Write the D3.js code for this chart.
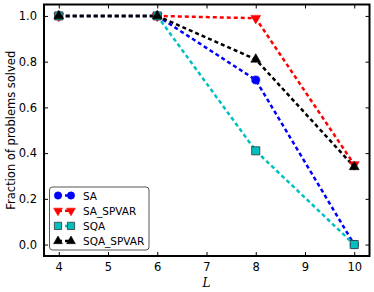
<!DOCTYPE html>
<html><head><meta charset="utf-8">
<script src="https://cdn.jsdelivr.net/npm/d3@7"></script>
<style>body{margin:0;background:#fff}svg{display:block}</style>
</head><body>
<svg id="c" width="374" height="292"></svg>
<script>
const Lvals = [4, 6, 8, 10];
const seriesNames = ["SA", "SA_SPVAR", "SQA", "SQA_SPVAR"];
const SA = [1.0, 1.0, 0.72, 0.0];
const SA_SPVAR = [1.0, 1.0, 0.99, 0.35];
const SQA = [1.0, 1.0, 0.41, 0.0];
const SQA_SPVAR = [1.0, 1.0, 0.81, 0.34];
const xTicks = [4, 5, 6, 7, 8, 9, 10];
const yTicks = [0.0, 0.2, 0.4, 0.6, 0.8, 1.0];

const colors = ["#0000ff", "#ff0000", "#00bfbf", "#000000"];
const shapes = [d3.symbolCircle, "tri-down", d3.symbolSquare, d3.symbolTriangle];
const values = [SA, SA_SPVAR, SQA, SQA_SPVAR];

const svg = d3.select("#c");
const L = 44, R = 369.5, T = 4.5, B = 256;
const x = d3.scaleLinear().domain([3.7, 10.31]).range([L, R]);
const y = d3.scaleLinear().domain([-0.05, 1.05]).range([B, T]);

function markerPath(shape, size) {
  if (shape === "tri-down") return d3.symbol().type(d3.symbolTriangle).size(size)();
  return d3.symbol().type(shape).size(size)();
}
function sizeFor(shape, k) {
  let s;
  if (shape === d3.symbolCircle) s = 52;
  else if (shape === d3.symbolSquare) s = 66;
  else s = 42;
  return s * k;
}
function drawMarker(g, shape, color, cx, cy, k) {
  g.append("path")
    .attr("d", markerPath(shape, sizeFor(shape, k)))
    .attr("transform", `translate(${cx},${cy})` + (shape === "tri-down" ? " rotate(180)" : ""))
    .attr("fill", color)
    .attr("stroke", shape === d3.symbolSquare ? "#333" : color)
    .attr("stroke-width", shape === d3.symbolSquare ? 0.8 : 0.6);
}

const plot = svg.append("g");
const line = d3.line().x((d, i) => x(Lvals[i])).y(d => y(d));
values.forEach((vals, s) => {
  plot.append("path").datum(vals)
    .attr("d", line)
    .attr("fill", "none")
    .attr("stroke", colors[s])
    .attr("stroke-width", 2.5)
    .attr("stroke-dasharray", "4,3");
});
values.forEach((vals, s) => {
  vals.forEach((v, i) => drawMarker(plot, shapes[s], colors[s], x(Lvals[i]), y(v), 1));
});

const fontF = "'DejaVu Sans', sans-serif";
const ax = svg.append("g");
const xb = d3.axisBottom(x).tickValues(xTicks).tickFormat(d3.format("d")).tickSizeInner(-4).tickSizeOuter(0).tickPadding(7);
const gx = ax.append("g").attr("transform", `translate(0,${B})`).call(xb);
const xt = d3.axisTop(x).tickValues(xTicks).tickFormat("").tickSizeInner(-4).tickSizeOuter(0);
const gxt = ax.append("g").attr("transform", `translate(0,${T})`).call(xt);
const yl = d3.axisLeft(y).tickValues(yTicks).tickFormat(d3.format(".1f")).tickSizeInner(-4).tickSizeOuter(0).tickPadding(7);
const gy = ax.append("g").attr("transform", `translate(${L},0)`).call(yl);
const yr = d3.axisRight(y).tickValues(yTicks).tickFormat("").tickSizeInner(-4).tickSizeOuter(0);
const gyr = ax.append("g").attr("transform", `translate(${R},0)`).call(yr);
[gx, gxt, gy, gyr].forEach(g => {
  g.select(".domain").remove();
  g.selectAll(".tick line").attr("stroke", "#000").attr("stroke-width", 1);
  g.selectAll("text").attr("font-family", fontF).attr("font-size", 11.5).attr("fill", "#000");
});
ax.append("rect").attr("x", L).attr("y", T).attr("width", R - L).attr("height", B - T)
  .attr("fill", "none").attr("stroke", "#000").attr("stroke-width", 2);

svg.append("text").attr("x", x(7)).attr("y", 287).attr("text-anchor", "middle")
  .attr("font-family", "'DejaVu Serif', serif").attr("font-style", "italic").attr("font-size", 12).text("L");
svg.append("text").attr("transform", `translate(15,${(y(0) + y(1)) / 2}) rotate(-90)`)
  .attr("text-anchor", "middle").attr("font-family", fontF).attr("font-size", 11.5).text("Fraction of problems solved");

const lg = svg.append("g");
lg.append("rect").attr("x", 49.5).attr("y", 187).attr("width", 99.5).attr("height", 63).attr("rx", 3)
  .attr("fill", "#fff").attr("stroke", "#555").attr("stroke-width", 1);
seriesNames.forEach((name, s) => {
  const ry = 195.5 + s * 15.2;
  lg.append("line").attr("x1", 58).attr("x2", 71).attr("y1", ry).attr("y2", ry)
    .attr("stroke", colors[s]).attr("stroke-width", 2.5).attr("stroke-dasharray", "4,3");
  drawMarker(lg, shapes[s], colors[s], 58, ry, 0.8);
  drawMarker(lg, shapes[s], colors[s], 71, ry, 0.8);
  lg.append("text").attr("x", 83).attr("y", ry + 4).attr("font-family", fontF).attr("font-size", 10.5).text(name);
});
</script>
</body></html>
